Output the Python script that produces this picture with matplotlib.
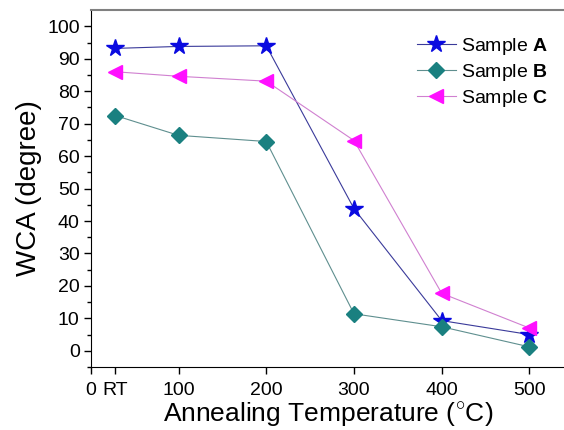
import matplotlib.pyplot as plt
import numpy as np

plt.rcParams['font.family'] = ['Liberation Sans', 'DejaVu Sans']
plt.rcParams['mathtext.fontset'] = 'custom'
plt.rcParams['mathtext.rm'] = 'Liberation Sans'
plt.rcParams['mathtext.bf'] = 'Liberation Sans:bold'

# data (RT placed at ~28 on the axis)
temp = [28, 100, 200, 300, 400, 500]
sample_a = [93.2, 93.8, 94.0, 43.8, 9.3, 5.0]
sample_b = [72.5, 66.4, 64.5, 11.4, 7.4, 1.2]
sample_c = [86.0, 84.6, 83.1, 64.8, 17.7, 7.0]
xticks = [0, 28, 100, 200, 300, 400, 500]
xticklabels = ['0', 'RT', '100', '200', '300', '400', '500']

fig = plt.figure(figsize=(5.64, 4.30), dpi=100)
ax = fig.add_axes([0.161, 0.1465, 0.84, 0.830])

ax.plot(temp, sample_a, color='#3a3a9a', lw=0.8, marker='*', ms=13,
        mfc='#0a0ae0', mec='#0a0ae0', label=r'Sample $\mathbf{A}$')
ax.plot(temp, sample_b, color='#5f8f8f', lw=0.8, marker='D', ms=8,
        mfc='#1a8080', mec='#1a8080', label=r'Sample $\mathbf{B}$')
ax.plot(temp, sample_c, color='#d080d0', lw=0.8, marker='<', ms=10,
        mfc='#ff10ff', mec='#ff10ff', label=r'Sample $\mathbf{C}$')

ax.set_xlim(0, 540)
ax.set_ylim(-5, 105)
ax.set_xticks(xticks)
ax.set_xticklabels(xticklabels)
ax.set_yticks(np.arange(0, 101, 10))
ax.set_yticks(np.arange(-5, 105, 5), minor=True)
ax.tick_params(axis='both', which='major', direction='out', length=5, width=1, labelsize=14, pad=3)
ax.tick_params(axis='x', which='major', pad=6)
ax.tick_params(axis='y', which='minor', direction='out', length=3, width=1)

ax.spines['right'].set_visible(False)
ax.spines['top'].set_color('#808080')
ax.spines['top'].set_linewidth(1.5)

ax.set_ylabel('WCA (degree)', fontsize=20, labelpad=4)
ax.set_xlabel(r'Annealing Temperature ($^{\circ}$C)', fontsize=19, labelpad=1)

ax.legend(loc='upper right', bbox_to_anchor=(0.995, 0.965), frameon=False, fontsize=14,
          handlelength=2.0, handletextpad=0.3, labelspacing=0.25, borderaxespad=0.3)

fig.savefig('out.png', dpi=100)
